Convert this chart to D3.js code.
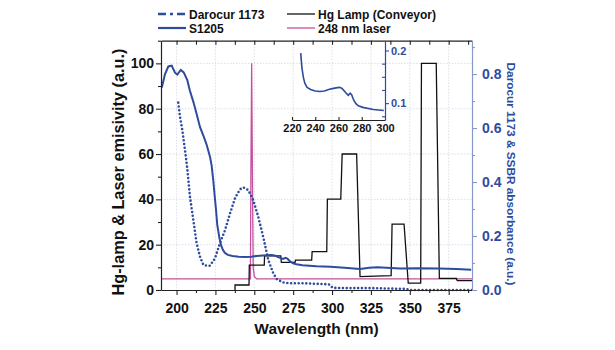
<!DOCTYPE html>
<html>
<head>
<meta charset="utf-8">
<script src="https://cdn.jsdelivr.net/npm/d3@7"></script>
<style>
  html, body { margin: 0; padding: 0; background: #fff; }
  svg { display: block; font-family: "Liberation Sans", Arial, sans-serif; }
</style>
</head>
<body>
<svg id="chart" width="615" height="350"></svg>
<script>
// ---------------- DATA ----------------
const xTicks = [200, 225, 250, 275, 300, 325, 350, 375];
const leftTicks = [0, 20, 40, 60, 80, 100];
const rightTicks = [0, 0.2, 0.4, 0.6, 0.8];
const insetXTicks = [220, 240, 260, 280, 300];
const insetYTicks = [0.1, 0.2];

// S1205 absorbance (right axis)
const s1205Wavelength = [190.5, 192.6, 194.7, 196.9, 199.0, 200.5, 202.7, 204.6, 206.9, 208.5, 210.8, 213.0, 215.1, 217.5, 219.4, 221.5, 222.6, 223.6, 224.5, 225.4, 226.2, 227.5, 228.5, 229.7, 231.0, 233.0, 236.0, 240.0, 244.0, 248.0, 251.5, 255.6, 258.0, 261.0, 263.0, 265.0, 267.0, 268.5, 270.0, 271.3, 273.0, 275.0, 277.0, 281.0, 290.0, 299.0, 308.0, 318.0, 324.0, 329.0, 335.0, 344.0, 355.0, 369.0, 380.0, 389.5];
const s1205Absorbance = [0.75, 0.80, 0.828, 0.831, 0.805, 0.798, 0.815, 0.806, 0.778, 0.74, 0.697, 0.65, 0.603, 0.568, 0.537, 0.494, 0.46, 0.407, 0.35, 0.296, 0.24, 0.195, 0.168, 0.150, 0.138, 0.130, 0.126, 0.123, 0.122, 0.123, 0.126, 0.128, 0.129, 0.130, 0.128, 0.123, 0.118, 0.115, 0.119, 0.116, 0.106, 0.099, 0.095, 0.092, 0.088, 0.086, 0.082, 0.078, 0.082, 0.084, 0.082, 0.080, 0.081, 0.080, 0.078, 0.075];

// Darocur 1173 absorbance (right axis)
const darocurWavelength = [201.1, 202.2, 203.7, 205.4, 206.5, 207.0, 208.6, 210.8, 212.9, 215.1, 217.2, 219.4, 221.5, 224.7, 227.9, 231.2, 234.4, 237.6, 240.8, 242.9, 246.1, 249.3, 252.5, 255.8, 259.0, 262.2, 264.5, 268.6, 272.0, 281.5, 290.0, 298.0, 300.5, 310.0, 325.0, 340.0, 348.0, 350.0, 370.0, 390.0];
const darocurAbsorbance = [0.694, 0.642, 0.593, 0.519, 0.469, 0.444, 0.346, 0.259, 0.173, 0.123, 0.093, 0.090, 0.090, 0.117, 0.173, 0.222, 0.284, 0.340, 0.373, 0.380, 0.370, 0.333, 0.272, 0.195, 0.111, 0.062, 0.040, 0.028, 0.025, 0.025, 0.023, 0.021, 0.008, 0.007, 0.007, 0.005, 0.004, 0.0, 0.0, 0.0];

// Hg lamp (conveyor) emission (left axis)
const hgWavelength = [237.6, 237.6, 246.6, 246.8, 256.4, 256.6, 267.0, 267.4, 276.2, 276.5, 286.9, 287.2, 296.6, 297.0, 305.6, 306.5, 315.8, 318.0, 338.0, 338.6, 346.3, 349.0, 357.0, 357.5, 367.0, 369.0, 380.0, 380.5, 390.0];
const hgEmission = [0, 2.2, 2.2, 11.0, 11.0, 15.1, 15.1, 12.2, 12.2, 13.2, 13.2, 16.9, 16.9, 40.1, 40.1, 60.0, 60.0, 5.9, 6.3, 29.1, 29.1, 3.0, 3.0, 100, 100, 5.1, 5.1, 4.1, 4.1];

// 248 nm laser emission (left axis)
const laserWavelength = [190, 247.5, 247.8, 248.3, 248.9, 249.3, 250.0, 251.5, 390];
const laserEmission = [4.9, 4.9, 50, 100, 40, 10, 6, 4.9, 4.9];

// ---------------- CHART ----------------
const svg = d3.select("#chart");
const L = 161, R = 472, T = 40.7, B = 290;
const blue = "#2e4b9e", blueAxis = "#8898c8", pink = "#c4519c";

const x = d3.scaleLinear().domain([190, 390]).range([L, R]);
const yL = d3.scaleLinear().domain([0, 110]).range([B, T]);
const yR = d3.scaleLinear().domain([0, 0.9235]).range([B, T]);

const zip = (a, b) => a.map((v, i) => [v, b[i]]);

// grid
const grid = svg.append("g");
grid.selectAll("line.vx").data(xTicks).join("line")
  .attr("x1", d => x(d)).attr("x2", d => x(d)).attr("y1", T).attr("y2", B)
  .attr("stroke", "#d4d6e2").attr("stroke-width", 0.8).attr("stroke-dasharray", "1.5,1.5");
grid.selectAll("line.hy").data(leftTicks.filter(d => d > 0)).join("line")
  .attr("x1", L).attr("x2", R).attr("y1", d => yL(d)).attr("y2", d => yL(d))
  .attr("stroke", "#d4d6e2").attr("stroke-width", 0.8).attr("stroke-dasharray", "1.5,1.5");

// series
const clipId = "plotclip";
svg.append("clipPath").attr("id", clipId).append("rect")
  .attr("x", L).attr("y", T).attr("width", R - L).attr("height", B - T + 2);
const plot = svg.append("g").attr("clip-path", `url(#${clipId})`);

const lineL = d3.line().x(d => x(d[0])).y(d => yL(d[1]));
const lineR = d3.line().x(d => x(d[0])).y(d => yR(d[1]));

plot.append("path").datum(zip(laserWavelength, laserEmission)).attr("d", lineL)
  .attr("fill", "none").attr("stroke", pink).attr("stroke-width", 1.3);
plot.append("path").datum(zip(hgWavelength, hgEmission)).attr("d", lineL)
  .attr("fill", "none").attr("stroke", "#111").attr("stroke-width", 1.3);
plot.append("path").datum(zip(darocurWavelength, darocurAbsorbance)).attr("d", lineR)
  .attr("fill", "none").attr("stroke", blue).attr("stroke-width", 2.6)
  .attr("stroke-linecap", "round").attr("stroke-dasharray", "0,3.8");
plot.append("path").datum(zip(s1205Wavelength, s1205Absorbance)).attr("d", lineR)
  .attr("fill", "none").attr("stroke", blue).attr("stroke-width", 2);

// axes
const styleAxis = (g, color) => {
  g.select(".domain").attr("stroke", color).attr("stroke-width", 1.2);
  g.selectAll(".tick line").attr("stroke", color).attr("stroke-width", 1.1);
};
const minorX = d3.range(187.5, 391, 12.5).filter(v => v >= 190 && v <= 390 && !xTicks.includes(v));
const gxB = svg.append("g").attr("transform", `translate(0,${B})`)
  .call(d3.axisBottom(x).tickValues(xTicks).tickSize(5).tickSizeOuter(0).tickPadding(8));
gxB.selectAll("text").attr("font-size", 14).attr("font-weight", "bold").attr("fill", "#111");
styleAxis(gxB, "#222");
const gxBm = svg.append("g").attr("transform", `translate(0,${B})`)
  .call(d3.axisBottom(x).tickValues(minorX).tickSize(3).tickFormat(""));
gxBm.select(".domain").remove(); styleAxis(gxBm, "#222");
const gxT = svg.append("g").attr("transform", `translate(0,${T})`)
  .call(d3.axisTop(x).tickValues(xTicks.concat(minorX)).tickSize(-4).tickSizeOuter(0).tickFormat(""));
styleAxis(gxT, "#222");

const gyL = svg.append("g").attr("transform", `translate(${L},0)`)
  .call(d3.axisLeft(yL).tickValues(leftTicks).tickSize(5).tickSizeOuter(0).tickPadding(2));
gyL.selectAll("text").attr("font-size", 14).attr("font-weight", "bold").attr("fill", "#111");
styleAxis(gyL, "#222");
const gyLm = svg.append("g").attr("transform", `translate(${L},0)`)
  .call(d3.axisLeft(yL).tickValues(d3.range(10, 111, 20)).tickSize(3).tickFormat(""));
gyLm.select(".domain").remove(); styleAxis(gyLm, "#222");

const gyR = svg.append("g").attr("transform", `translate(${R},0)`)
  .call(d3.axisRight(yR).tickValues(rightTicks).tickSize(5).tickSizeOuter(0).tickPadding(5).tickFormat(d3.format(".1f")));
gyR.selectAll("text").attr("font-size", 14).attr("font-weight", "bold").attr("fill", blue);
styleAxis(gyR, blueAxis);
const gyRm = svg.append("g").attr("transform", `translate(${R},0)`)
  .call(d3.axisRight(yR).tickValues([0.1, 0.3, 0.5, 0.7, 0.9]).tickSize(3).tickFormat(""));
gyRm.select(".domain").remove(); styleAxis(gyRm, blueAxis);

// axis titles
svg.append("text").attr("x", (L + R) / 2).attr("y", 334).attr("text-anchor", "middle")
  .attr("font-size", 15.5).attr("font-weight", "bold").attr("fill", "#111").text("Wavelength (nm)");
svg.append("text").attr("transform", "translate(124,172) rotate(-90)").attr("text-anchor", "middle")
  .attr("font-size", 16.3).attr("font-weight", "bold").attr("fill", "#111").text("Hg-lamp & Laser emisivity (a.u.)");
svg.append("text").attr("transform", "translate(507,174) rotate(90)").attr("text-anchor", "middle")
  .attr("font-size", 11.8).attr("font-weight", "bold").attr("fill", blue).text("Darocur 1173 & SSBR absorbance (a.u.)");

// inset
const xI = d3.scaleLinear().domain([220, 300]).range([292, 385]);
const yI = d3.scaleLinear().domain([0.068, 0.218]).range([120, 41]);
const insetData = zip(s1205Wavelength, s1205Absorbance).filter(d => d[0] >= 227.5 && d[0] <= 300);
svg.append("path").datum(insetData)
  .attr("d", d3.line().x(d => xI(d[0])).y(d => yI(d[1])))
  .attr("fill", "none").attr("stroke", blue).attr("stroke-width", 1.6);
const gIx = svg.append("g").attr("transform", "translate(0,120)")
  .call(d3.axisBottom(xI).tickValues(insetXTicks).tickSize(-3).tickSizeOuter(0).tickPadding(4));
gIx.selectAll("text").attr("font-size", 11).attr("font-weight", "bold").attr("fill", "#111");
styleAxis(gIx, "#222");
const gIy = svg.append("g").attr("transform", "translate(385,0)")
  .call(d3.axisRight(yI).tickValues(insetYTicks).tickSize(4).tickSizeOuter(0).tickPadding(2).tickFormat(d3.format(".1f")));
gIy.selectAll("text").attr("font-size", 11).attr("font-weight", "bold").attr("fill", blue);
styleAxis(gIy, blue);
const gIym = svg.append("g").attr("transform", "translate(385,0)")
  .call(d3.axisRight(yI).tickValues([0.075, 0.125, 0.15, 0.175]).tickSize(-3).tickFormat(""));
gIym.select(".domain").remove(); styleAxis(gIym, blue);

// legend
const legend = [
  { label: "Darocur 1173", x: 158, y: 14, color: blue, dash: "8,4,3,4", w: 2.5 },
  { label: "S1205", x: 158, y: 28, color: blue, dash: null, w: 2.2 },
  { label: "Hg Lamp (Conveyor)", x: 287, y: 14, color: "#111", dash: null, w: 1.3 },
  { label: "248 nm laser", x: 287, y: 28, color: pink, dash: null, w: 1.3 }
];
const lg = svg.append("g").selectAll("g").data(legend).join("g");
lg.append("line").attr("x1", d => d.x).attr("x2", d => d.x + 28).attr("y1", d => d.y).attr("y2", d => d.y)
  .attr("stroke", d => d.color).attr("stroke-width", d => d.w).attr("stroke-dasharray", d => d.dash);
lg.append("text").attr("x", d => d.x + 31).attr("y", d => d.y + 4.5)
  .attr("font-size", 12).attr("font-weight", "bold").attr("fill", "#111").text(d => d.label);
</script>
</body>
</html>
